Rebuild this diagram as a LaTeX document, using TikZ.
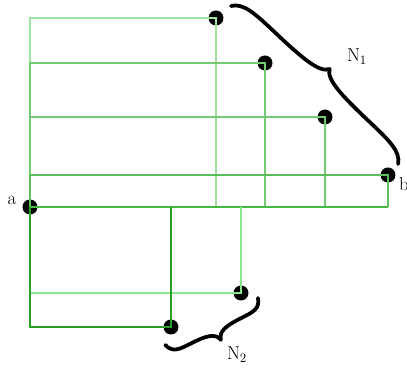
\documentclass[tikz,border=0pt]{standalone}
\usepackage{amsmath}
\usepackage{tikz}
\usetikzlibrary{calc,positioning}
\definecolor{greenone}{RGB}{160,228,160}
\definecolor{greentwo}{RGB}{115,202,115}
\definecolor{greenthree}{RGB}{90,190,90}
\definecolor{greenfour}{RGB}{70,185,70}
\definecolor{greenfive}{RGB}{40,160,40}
\definecolor{greensix}{RGB}{140,228,140}
% curly brace along the local x axis, tip on the +y side
\newcommand{\curlybrace}[2]{%
  \draw[bracket] (0,0) .. controls ({0.03*#1},{0.5*#2}) and ({0.1*#1},{0.5*#2}) .. ({0.22*#1},{0.5*#2})
     .. controls ({0.38*#1},{0.5*#2}) and ({0.48*#1},{0.55*#2}) .. ({0.5*#1},{#2})
     .. controls ({0.52*#1},{0.55*#2}) and ({0.62*#1},{0.5*#2}) .. ({0.78*#1},{0.5*#2})
     .. controls ({0.9*#1},{0.5*#2}) and ({0.97*#1},{0.5*#2}) .. ({#1},0);}

\begin{document}
\begin{tikzpicture}[x=0.03cm,y=-0.03cm,
    dot/.style={circle,fill=black,inner sep=0pt,minimum size=0.45cm},
    wire/.style={line width=0.9pt},
    bracket/.style={line width=3.2pt,line cap=round,line join=round},
    lbl/.style={font=\fontsize{16}{19}\selectfont}]
              \useasboundingbox (0,0) rectangle (407,371);
              % points
              \node[dot] (a) at (30,207) {};
              \node[dot] (p1) at (216,18) {};
              \node[dot] (p2) at (265,63) {};
              \node[dot] (p3) at (325,117) {};
              \node[dot] (b) at (388,175) {};
              \node[dot] (q1) at (241,293) {};
              \node[dot] (q2) at (171,327) {};
              % labels
              \node[lbl] (la) at (12,200) {a};
              \node[lbl] (lb) at (404,184) {b};
              % paths above a
              \draw[wire,color=greenone] (a.center) |- (p1.center) -- (p1.center |- a.center);
              \draw[wire,color=greentwo] (a.center) |- (p2.center) -- (p2.center |- a.center);
              \draw[wire,color=greentwo] (a.center) |- (p3.center) -- (p3.center |- a.center);
              \draw[wire,color=greenthree] (a.center) |- (b.center) -- (b.center |- a.center);
              \draw[wire,color=greenfour] (a.center) -- (b.center |- a.center);
              % paths below a
              \draw[wire,color=greensix] (a.center) |- (q1.center) -- (q1.center |- a.center);
              \draw[wire,color=greenfive] (a.center) |- (q2.center) -- (q2.center |- a.center);
              % braces
              \coordinate (n1s) at (231,6);
              \coordinate (n2s) at (258,298);
              \begin{scope}[shift={(n1s)},x=1cm,y=1cm,rotate=-43.4]
                \curlybrace{6.9}{0.66}
              \end{scope}
              \begin{scope}[shift={(n2s)},x=1cm,y=1cm,rotate=206.8]
                \curlybrace{3.12}{0.62}
              \end{scope}
              \node[lbl] (N1) at (357,57) {N$_1$};
              \node[lbl] (N2) at (237,355) {N$_2$};
            \end{tikzpicture}
\end{document}
